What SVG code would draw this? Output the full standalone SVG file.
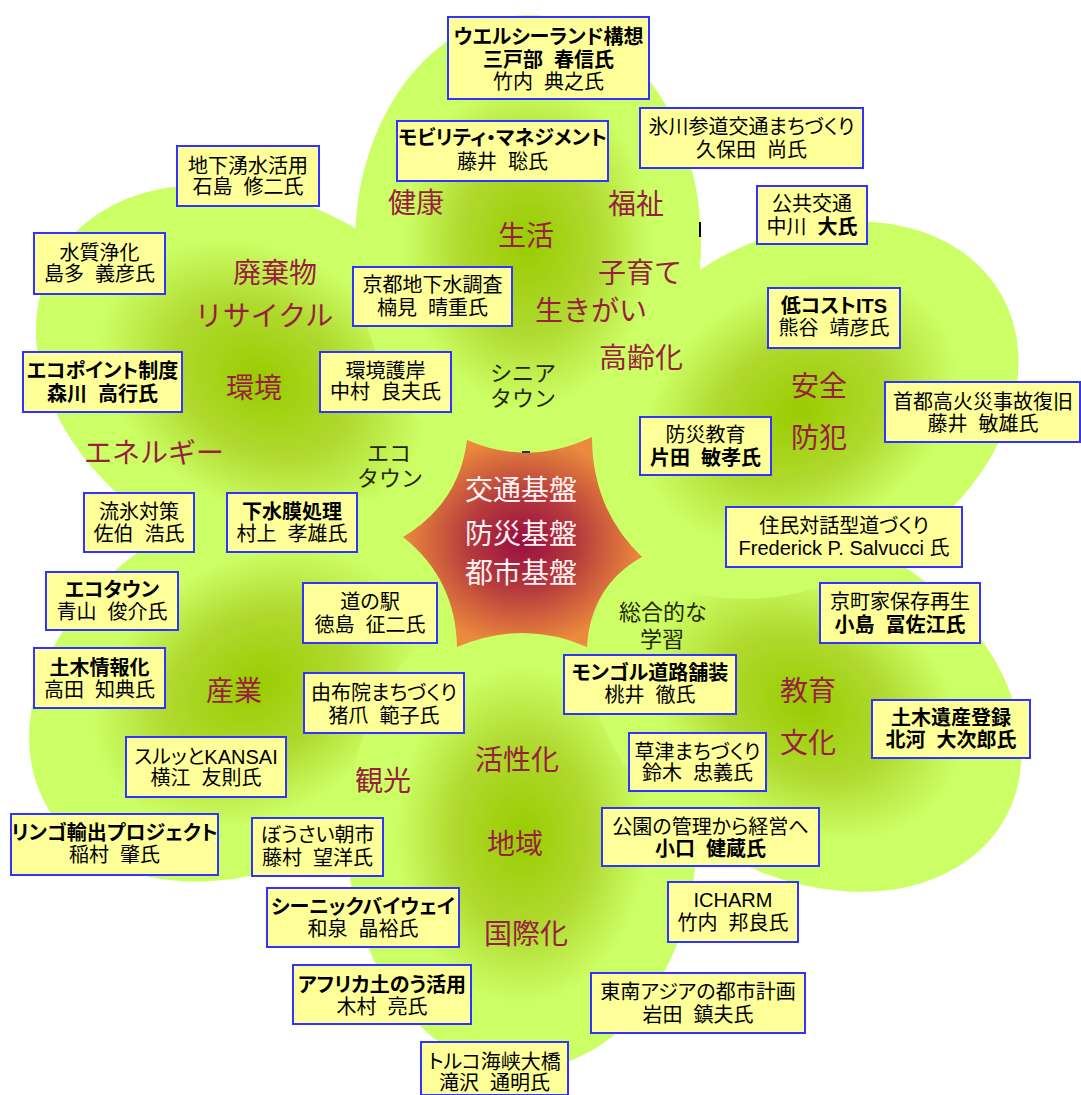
<svg xmlns="http://www.w3.org/2000/svg" width="1081" height="1095" viewBox="0 0 1081 1095">
<defs>
<radialGradient id="pg" cx="50%" cy="50%" r="50%">
<stop offset="0" stop-color="#99CC00"/>
<stop offset="0.4" stop-color="#B0DA30"/>
<stop offset="0.72" stop-color="#CCFF66"/>
<stop offset="1" stop-color="#CCFF66"/>
</radialGradient>
<radialGradient id="sg" cx="50%" cy="50%" r="50%">
<stop offset="0" stop-color="#980E40"/>
<stop offset="0.45" stop-color="#B5393D"/>
<stop offset="1" stop-color="#EB8A3C"/>
</radialGradient>
<style>
.box rect{fill:#FFFF99;stroke:#3333FF;stroke-width:2}
.bt{font-family:"Liberation Sans","Noto Sans CJK JP",sans-serif;font-size:20px;fill:#000;text-anchor:middle;font-feature-settings:"palt"}
.b{font-weight:bold}
.lbl{font-family:"Noto Sans CJK JP",sans-serif;font-size:28px;fill:#991F3F;text-anchor:middle}
.gt{font-family:"Liberation Sans","Noto Sans CJK JP",sans-serif;font-size:22px;fill:#262600;text-anchor:middle}
.ct{font-family:"Liberation Sans","Noto Sans CJK JP",sans-serif;font-size:28px;fill:#FFF2F2;text-anchor:middle}
.petal{fill:url(#pg)}
</style>
</defs>
<rect width="1081" height="1095" fill="#FFFFFF"/>
<g id="petals">
<circle cx="525" cy="545" r="190" fill="#C8F262"/>
<ellipse id="petal-ul" class="petal" cx="262" cy="380" rx="240" ry="178" transform="rotate(30 262 380)"/>
<ellipse id="petal-ll" class="petal" cx="255" cy="687" rx="240" ry="177" transform="rotate(-30 255 687)"/>
<ellipse id="petal-b" class="petal" cx="522" cy="835" rx="175" ry="235"/>
<ellipse id="petal-lr" class="petal" cx="805" cy="705" rx="230" ry="170" transform="rotate(30 805 705)"/>
<ellipse id="petal-ur" class="petal" cx="800" cy="410" rx="232" ry="172" transform="rotate(-30 800 410)"/>
<ellipse id="petal-t" class="petal" cx="528" cy="243" rx="173" ry="228"/>
</g>
<g id="center-star">
<path d="M467,440 Q528.3,466.7 592,437 Q592.2,509.4 642,557 Q590.3,586.1 587,647 Q522.8,618.9 457,647 Q455.7,578.8 403,537 Q459.3,503.2 467,440 Z" fill="url(#sg)"/>
<text class="ct"><tspan x="521" y="500">交通基盤</tspan><tspan x="521" y="544">防災基盤</tspan><tspan x="521" y="583">都市基盤</tspan></text>
</g>
<g id="marks">
<rect x="699" y="222" width="2" height="15" fill="#000"/>
<rect x="522" y="451" width="8" height="2" fill="#333"/>
</g>
<g id="labels">
<text class="lbl" x="416" y="213">健康</text>
<text class="lbl" x="636" y="214">福祉</text>
<text class="lbl" x="526" y="246">生活</text>
<text class="lbl" x="640" y="283">子育て</text>
<text class="lbl" x="591" y="321">生きがい</text>
<text class="lbl" x="641" y="368">高齢化</text>
<text class="lbl" x="275" y="283">廃棄物</text>
<text class="lbl" x="264" y="326">リサイクル</text>
<text class="lbl" x="254" y="398">環境</text>
<text class="lbl" x="154" y="463">エネルギー</text>
<text class="lbl" x="819" y="396">安全</text>
<text class="lbl" x="819" y="448">防犯</text>
<text class="lbl" x="808" y="701">教育</text>
<text class="lbl" x="808" y="753">文化</text>
<text class="lbl" x="234" y="701">産業</text>
<text class="lbl" x="383" y="791">観光</text>
<text class="lbl" x="517" y="770">活性化</text>
<text class="lbl" x="515" y="854">地域</text>
<text class="lbl" x="526" y="944">国際化</text>
<text class="gt"><tspan x="523" y="381">シニア</tspan><tspan x="523" y="406">タウン</tspan></text>
<text class="gt"><tspan x="389" y="461">エコ</tspan><tspan x="390" y="486">タウン</tspan></text>
<text class="gt"><tspan x="663" y="620">総合的な</tspan><tspan x="662" y="647">学習</tspan></text>
</g>
<g id="connectors"/>
<g id="n01" class="box"><rect x="448" y="17" width="201" height="82"/><text class="bt b" x="548.5" y="44">ウエルシーランド構想</text><text class="bt b" x="548.5" y="67">三戸部&#160;&#160;春信氏</text><text class="bt" x="548.5" y="89">竹内&#160;&#160;典之氏</text></g>
<g id="n02" class="box"><rect x="397" y="121" width="211" height="60"/><text class="bt b" x="502.5" y="145">モビリティ・マネジメント</text><text class="bt" x="502.5" y="169">藤井&#160;&#160;聡氏</text></g>
<g id="n03" class="box"><rect x="640" y="108" width="223" height="60"/><text class="bt" x="751.5" y="134">氷川参道交通まちづくり</text><text class="bt" x="751.5" y="157">久保田&#160;&#160;尚氏</text></g>
<g id="n04" class="box"><rect x="757" y="186" width="110" height="58"/><text class="bt" x="812" y="211">公共交通</text><text class="bt" x="812" y="234">中川&#160;&#160;<tspan class="b">大氏</tspan></text></g>
<g id="n05" class="box"><rect x="768" y="288" width="132" height="60"/><text class="bt b" x="834" y="313">低コストITS</text><text class="bt" x="834" y="335">熊谷&#160;&#160;靖彦氏</text></g>
<g id="n06" class="box"><rect x="177" y="146" width="142" height="60"/><text class="bt" x="248" y="173">地下湧水活用</text><text class="bt" x="248" y="194">石島&#160;&#160;修二氏</text></g>
<g id="n07" class="box"><rect x="34" y="233" width="131" height="61"/><text class="bt" x="99.5" y="260">水質浄化</text><text class="bt" x="99.5" y="281">島多&#160;&#160;義彦氏</text></g>
<g id="n08" class="box"><rect x="353" y="267" width="159" height="59"/><text class="bt" x="432.5" y="292">京都地下水調査</text><text class="bt" x="432.5" y="315">楠見&#160;&#160;晴重氏</text></g>
<g id="n09" class="box"><rect x="23" y="352" width="159" height="60"/><text class="bt b" x="102.5" y="378">エコポイント制度</text><text class="bt b" x="102.5" y="401">森川&#160;&#160;高行氏</text></g>
<g id="n10" class="box"><rect x="320" y="352" width="131" height="60"/><text class="bt" x="385.5" y="378">環境護岸</text><text class="bt" x="385.5" y="399">中村&#160;&#160;良夫氏</text></g>
<g id="n11" class="box"><rect x="640" y="417" width="131" height="58"/><text class="bt" x="705.5" y="442">防災教育</text><text class="bt b" x="705.5" y="465">片田&#160;&#160;敏孝氏</text></g>
<g id="n12" class="box"><rect x="885" y="382" width="195" height="60"/><text class="bt" x="983" y="409">首都高火災事故復旧</text><text class="bt" x="983" y="431">藤井&#160;&#160;敏雄氏</text></g>
<g id="n13" class="box"><rect x="726" y="507" width="236" height="60"/><text class="bt" x="844" y="533">住民対話型道づくり</text><text class="bt" x="844" y="555">Frederick P. Salvucci 氏</text></g>
<g id="n14" class="box"><rect x="820" y="583" width="160" height="60"/><text class="bt" x="900" y="609">京町家保存再生</text><text class="bt b" x="900" y="632">小島&#160;&#160;冨佐江氏</text></g>
<g id="n15" class="box"><rect x="872" y="700" width="158" height="58"/><text class="bt b" x="951" y="725">土木遺産登録</text><text class="bt b" x="951" y="747">北河&#160;&#160;大次郎氏</text></g>
<g id="n16" class="box"><rect x="84" y="493" width="110" height="59"/><text class="bt" x="139" y="519">流氷対策</text><text class="bt" x="139" y="541">佐伯&#160;&#160;浩氏</text></g>
<g id="n17" class="box"><rect x="227" y="493" width="130" height="59"/><text class="bt b" x="292" y="519">下水膜処理</text><text class="bt" x="292" y="541">村上&#160;&#160;孝雄氏</text></g>
<g id="n18" class="box"><rect x="46" y="572" width="132" height="58"/><text class="bt b" x="112" y="597">エコタウン</text><text class="bt" x="112" y="619">青山&#160;&#160;俊介氏</text></g>
<g id="n19" class="box"><rect x="303" y="583" width="134" height="60"/><text class="bt" x="370" y="609">道の駅</text><text class="bt" x="370" y="632">徳島&#160;&#160;征二氏</text></g>
<g id="n20" class="box"><rect x="34" y="648" width="131" height="60"/><text class="bt b" x="99.5" y="675">土木情報化</text><text class="bt" x="99.5" y="697">高田&#160;&#160;知典氏</text></g>
<g id="n21" class="box"><rect x="304" y="673" width="160" height="60"/><text class="bt" x="384" y="700">由布院まちづくり</text><text class="bt" x="384" y="723">猪爪&#160;&#160;範子氏</text></g>
<g id="n22" class="box"><rect x="564" y="655" width="172" height="59"/><text class="bt b" x="650" y="680">モンゴル道路舗装</text><text class="bt" x="650" y="702">桃井&#160;&#160;徹氏</text></g>
<g id="n23" class="box"><rect x="126" y="737" width="160" height="60"/><text class="bt" x="206" y="764">スルッとKANSAI</text><text class="bt" x="206" y="785">横江&#160;&#160;友則氏</text></g>
<g id="n24" class="box"><rect x="629" y="733" width="137" height="58"/><text class="bt" x="697.5" y="759">草津まちづくり</text><text class="bt" x="697.5" y="780">鈴木&#160;&#160;忠義氏</text></g>
<g id="n25" class="box"><rect x="11" y="814" width="207" height="61"/><text class="bt b" x="114.5" y="840">リンゴ輸出プロジェクト</text><text class="bt" x="114.5" y="862">稲村&#160;&#160;肇氏</text></g>
<g id="n26" class="box"><rect x="252" y="818" width="131" height="58"/><text class="bt" x="317.5" y="842">ぼうさい朝市</text><text class="bt" x="317.5" y="865">藤村&#160;&#160;望洋氏</text></g>
<g id="n27" class="box"><rect x="602" y="808" width="217" height="58"/><text class="bt" x="710.5" y="834">公園の管理から経営へ</text><text class="bt b" x="710.5" y="856">小口&#160;&#160;健蔵氏</text></g>
<g id="n28" class="box"><rect x="267" y="888" width="192" height="59"/><text class="bt b" x="363" y="914">シーニックバイウェイ</text><text class="bt" x="363" y="936">和泉&#160;&#160;晶裕氏</text></g>
<g id="n29" class="box"><rect x="668" y="882" width="130" height="60"/><text class="bt" x="733" y="907">ICHARM</text><text class="bt" x="733" y="930">竹内&#160;&#160;邦良氏</text></g>
<g id="n30" class="box"><rect x="293" y="965" width="178" height="59"/><text class="bt b" x="382" y="992">アフリカ土のう活用</text><text class="bt" x="382" y="1014">木村&#160;&#160;亮氏</text></g>
<g id="n31" class="box"><rect x="591" y="973" width="214" height="60"/><text class="bt" x="698" y="999">東南アジアの都市計画</text><text class="bt" x="698" y="1022">岩田&#160;&#160;鎮夫氏</text></g>
<g id="n32" class="box"><rect x="421" y="1042" width="147" height="53"/><text class="bt" x="494.5" y="1069">トルコ海峡大橋</text><text class="bt" x="494.5" y="1090">滝沢&#160;&#160;通明氏</text></g>
</svg>
